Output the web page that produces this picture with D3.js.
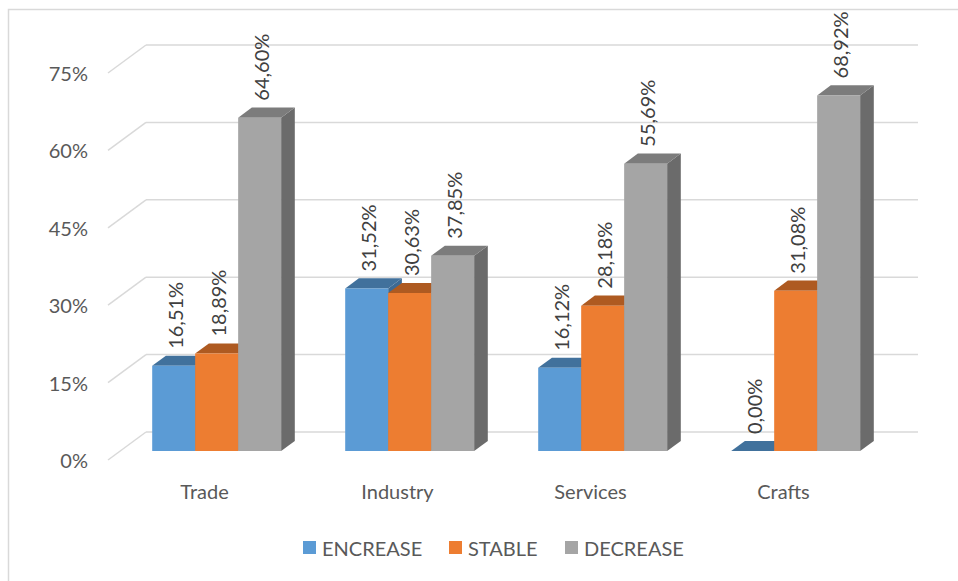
<!DOCTYPE html>
<html>
<head>
<meta charset="utf-8">
<script src="https://cdn.jsdelivr.net/npm/d3@7"></script>
<style>
  html, body { margin: 0; padding: 0; background: #fff; }
  svg { display: block; font-family: Lato, "Open Sans", sans-serif; }
</style>
</head>
<body>
<svg id="chart" width="958" height="581"></svg>
<script>
// Sectors and the share of firms reporting each outlook
const categories = ["Trade", "Industry", "Services", "Crafts"];
const seriesNames = ["ENCREASE", "STABLE", "DECREASE"];
const encrease = [16.51, 31.52, 16.12, 0.00];
const stable   = [18.89, 30.63, 28.18, 31.08];
const decrease = [64.60, 37.85, 55.69, 68.92];
const yTicks = [0, 15, 30, 45, 60, 75];

const seriesValues = [encrease, stable, decrease];
const frontColors = ["#5b9bd5", "#ed7d31", "#a5a5a5"];
const topColors   = ["#41719c", "#ae5a21", "#7c7c7c"];
const sideColors  = ["#3d6a94", "#a3541f", "#6b6b6b"];

const svg = d3.select("#chart");
const textColor = "#595959";
const gridColor = "#d9d9d9";

// Chart frame
svg.append("rect")
  .attr("x", 8.5).attr("y", 9.5)
  .attr("width", 970).attr("height", 590)
  .attr("fill", "#fff")
  .attr("stroke", gridColor).attr("stroke-width", 1.5);

// Back-wall scales, plus an oblique depth offset for the 3D look
const x = d3.scaleBand().domain(categories).range([146, 918])
  .paddingInner(0.332).paddingOuter(0.166);
const y = d3.scaleLinear().domain([0, 75]).range([432, 45]);
const depthX = -38, depthY = 28;          // full depth from back wall to floor front
const d0 = 0.32, d1 = 0.68;               // bar depth span
const proj = (px, py, d) => [px + depthX * d, py + depthY * d];

// Gridlines: back wall + side wall diagonal
const grid = svg.append("g");
yTicks.forEach(t => {
  const yy = y(t);
  grid.append("line")
    .attr("x1", x.range()[0]).attr("x2", x.range()[1])
    .attr("y1", yy).attr("y2", yy)
    .attr("stroke", gridColor).attr("stroke-width", 1.5);
  const f = proj(x.range()[0], yy, 1);
  grid.append("line")
    .attr("x1", x.range()[0]).attr("y1", yy)
    .attr("x2", f[0]).attr("y2", f[1])
    .attr("stroke", gridColor).attr("stroke-width", 1.5);
});

// Y tick labels on the floor-front plane
svg.append("g").selectAll("text").data(yTicks).join("text")
  .attr("x", x.range()[0] + depthX - 20)
  .attr("y", d => y(d) + depthY)
  .attr("text-anchor", "end")
  .attr("dominant-baseline", "central")
  .attr("font-size", 20)
  .attr("fill", textColor)
  .text(d => d + "%");

// Bars
const barW = x.bandwidth() / seriesNames.length;
const bars = svg.append("g");
const poly = pts => pts.map(p => p.join(",")).join(" ");
const fmt = v => v.toFixed(2).replace(".", ",") + "%";

categories.forEach((cat, ci) => {
  seriesNames.forEach((s, si) => {
    const v = seriesValues[si][ci];
    const xl = x(cat) + si * barW, xr = xl + barW;
    const yt = y(v), yb = y(0);
    // corners
    const FTL = proj(xl, yt, d1), FTR = proj(xr, yt, d1);
    const FBL = proj(xl, yb, d1), FBR = proj(xr, yb, d1);
    const BTL = proj(xl, yt, d0), BTR = proj(xr, yt, d0);
    const BBR = proj(xr, yb, d0);
    // right side
    bars.append("polygon")
      .attr("points", poly([FTR, BTR, BBR, FBR]))
      .attr("fill", sideColors[si]);
    // top
    bars.append("polygon")
      .attr("points", poly([FTL, FTR, BTR, BTL]))
      .attr("fill", topColors[si]);
    // front
    if (v > 0) {
      bars.append("polygon")
        .attr("points", poly([FTL, FTR, FBR, FBL]))
        .attr("fill", frontColors[si]);
    }
    // value label, rotated
    const lx = (FTL[0] + FTR[0]) / 2 + 1;
    const ly = FTL[1] - 17;
    bars.append("text")
      .attr("transform", `translate(${lx},${ly}) rotate(-90)`)
      .attr("text-anchor", "start")
      .attr("dominant-baseline", "central")
      .attr("font-size", 20)
      .attr("fill", "#404040")
      .text(fmt(v));
  });
});

// Category labels at the floor front
svg.append("g").selectAll("text").data(categories).join("text")
  .attr("x", d => x(d) + x.bandwidth() / 2 + depthX)
  .attr("y", y(0) + depthY + 31)
  .attr("text-anchor", "middle")
  .attr("dominant-baseline", "central")
  .attr("font-size", 20)
  .attr("fill", textColor)
  .text(d => d);

// Legend
const legendX = [303, 449, 565];
const legend = svg.append("g");
seriesNames.forEach((s, i) => {
  legend.append("rect")
    .attr("x", legendX[i]).attr("y", 541)
    .attr("width", 13).attr("height", 13)
    .attr("fill", frontColors[i]);
  legend.append("text")
    .attr("x", legendX[i] + 19).attr("y", 548)
    .attr("dominant-baseline", "central")
    .attr("font-size", 20)
    .attr("fill", textColor)
    .text(s);
});
</script>
</body>
</html>
